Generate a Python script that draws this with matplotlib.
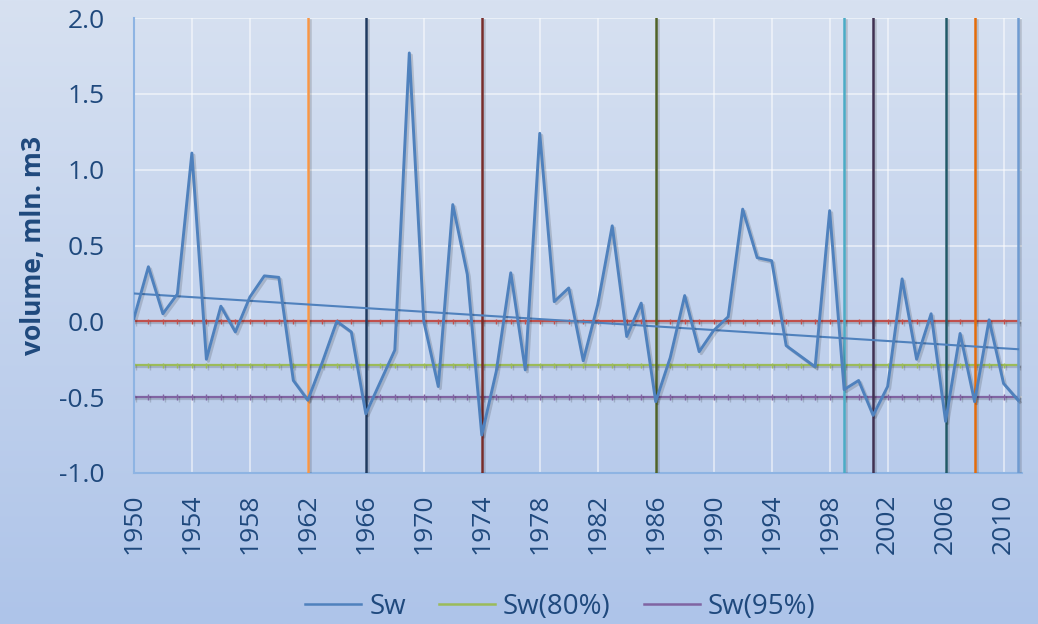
import numpy as np
import matplotlib
matplotlib.use("Agg")
import matplotlib.pyplot as plt
import matplotlib.patheffects as pe
from matplotlib.colors import LinearSegmentedColormap
from matplotlib.lines import Line2D

years = list(range(1950, 2012))
sw = [0.02, 0.36, 0.05, 0.18, 1.11, -0.25, 0.10, -0.07, 0.16, 0.30,
      0.29, -0.39, -0.52, -0.27, 0.00, -0.07, -0.61, -0.40, -0.19, 1.77,
      0.00, -0.43, 0.77, 0.31, -0.75, -0.33, 0.32, -0.32, 1.24, 0.13,
      0.22, -0.26, 0.11, 0.63, -0.10, 0.12, -0.53, -0.24, 0.17, -0.20,
      -0.06, 0.03, 0.74, 0.42, 0.40, -0.16, -0.23, -0.30, 0.73, -0.45,
      -0.39, -0.62, -0.43, 0.28, -0.25, 0.05, -0.66, -0.08, -0.53, 0.01,
      -0.41, -0.52]
sw_mean = 0.0
sw80 = -0.29
sw95 = -0.50
mark_years = [1962, 1966, 1974, 1986, 1999, 2001, 2006, 2008, 2011]
mark_colors = ['#f79646', '#1f3a60', '#772c2a', '#4f6228', '#4bacc6',
               '#403152', '#215968', '#e46c0a', '#6f9bd1']

txt = '#1f497d'
plt.rcParams['font.family'] = ['Open Sans', 'DejaVu Sans']

fig = plt.figure(figsize=(10.38, 6.24), dpi=100)

# gradient background
bg = fig.add_axes([0, 0, 1, 1], zorder=-10)
cmap = LinearSegmentedColormap.from_list('bg', ['#d7e1f1', '#aec4e9'])
bg.imshow(np.linspace(0, 1, 256).reshape(-1, 1), aspect='auto', cmap=cmap,
          extent=[0, 1, 0, 1])
bg.axis('off')

ax = fig.add_axes([0.129, 0.242, 0.856, 0.729])
ax.patch.set_alpha(0)

x = np.array(years)
shadow = [pe.SimpleLineShadow(offset=(1.5, -1.5), alpha=0.15), pe.Normal()]

for yr, c in zip(mark_years, mark_colors):
    ax.axvline(yr, color=c, lw=1.8, zorder=3, path_effects=shadow)

ax.plot(x, [sw_mean] * len(x), color='#c0504d', lw=1.6, marker='|', ms=4,
        mew=1, zorder=2, path_effects=shadow)
ax.plot(x, [sw80] * len(x), color='#9bbb59', lw=1.6, marker='|', ms=4,
        mew=1, zorder=2, path_effects=shadow)
ax.plot(x, [sw95] * len(x), color='#8064a2', lw=1.6, marker='|', ms=4,
        mew=1, zorder=2, path_effects=shadow)

# linear trend
k, b = np.polyfit(x, sw, 1)
ax.plot(x, k * x + b, color='#4f81bd', lw=1.5, zorder=4)

ax.plot(x, sw, color='#4f81bd', lw=2.1, zorder=5, path_effects=shadow)

ax.set_xlim(1950, 2011.3)
ax.set_ylim(-1.0, 2.0)
ax.set_xticks(np.arange(1950, 2011, 4))
ax.set_xticklabels([str(v) for v in range(1950, 2011, 4)], rotation=90)
ax.set_yticks(np.arange(-1.0, 2.01, 0.5))
ax.set_yticklabels(['%.1f' % v for v in np.arange(-1.0, 2.01, 0.5)])
ax.grid(True, color='white', alpha=0.55, lw=1.3)
ax.set_axisbelow(True)
ax.tick_params(length=0, labelsize=19, colors=txt)
ax.tick_params(axis='x', pad=15)
ax.tick_params(axis='y', pad=21)
for s in ['top', 'right']:
    ax.spines[s].set_visible(False)
for s in ['left', 'bottom']:
    ax.spines[s].set_color('#8eb4e3')
    ax.spines[s].set_linewidth(1.5)

ax.set_ylabel('volume, mln. m3', fontsize=19, fontweight='bold', color=txt,
              labelpad=9)

handles = [Line2D([], [], color='#4f81bd', lw=1.8),
           Line2D([], [], color='#9bbb59', lw=1.8),
           Line2D([], [], color='#8064a2', lw=1.8)]
fig.legend(handles, ['Sw', 'Sw(80%)', 'Sw(95%)'], loc='lower center', ncol=3,
           bbox_to_anchor=(0.54, -0.035), frameon=False, fontsize=20,
           labelcolor=txt, handlelength=2.0, columnspacing=1.2,
           handletextpad=0.3)

fig.savefig('out.png', dpi=100)
